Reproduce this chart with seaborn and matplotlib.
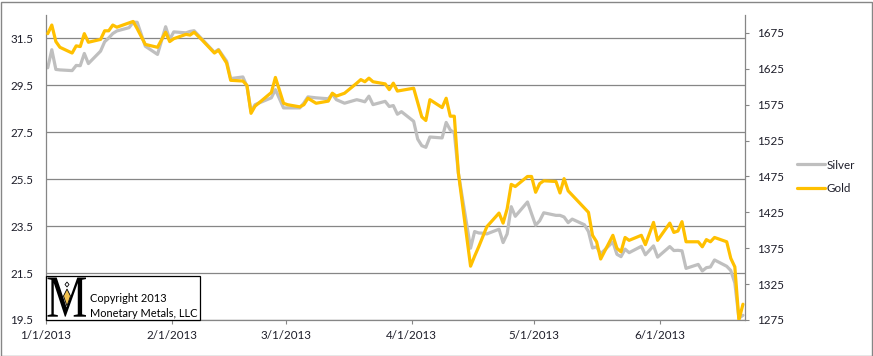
import numpy as np
import pandas as pd
import matplotlib
matplotlib.use('Agg')
import matplotlib.pyplot as plt
import matplotlib.dates as mdates
import matplotlib.transforms as mtransforms
from matplotlib.lines import Line2D
from matplotlib.patches import Rectangle, Polygon, PathPatch
from matplotlib.textpath import TextPath
from matplotlib.font_manager import FontProperties
from matplotlib.ticker import FuncFormatter
import seaborn as sns

# trading days (2013)
dates_jan = ['01-01', '01-02', '01-03', '01-04', '01-07', '01-08', '01-09', '01-10', '01-11',
             '01-14', '01-15', '01-16', '01-17', '01-18', '01-21', '01-22', '01-23', '01-25',
             '01-28', '01-30', '01-31']
dates_feb = ['02-01', '02-04', '02-05', '02-06', '02-08', '02-11', '02-12', '02-14', '02-15',
             '02-18', '02-19', '02-20', '02-21', '02-25', '02-26', '02-28']
dates_mar = ['03-01', '03-04', '03-05', '03-06', '03-08', '03-11', '03-12', '03-13', '03-15',
             '03-18', '03-19', '03-20', '03-21', '03-22', '03-25', '03-26', '03-27', '03-28', '03-29']
dates_apr = ['04-01', '04-02', '04-03', '04-04', '04-05', '04-08', '04-09', '04-10', '04-11',
             '04-12', '04-15', '04-16', '04-17', '04-18', '04-19', '04-22', '04-23', '04-24',
             '04-25', '04-26', '04-29', '04-30']
dates_may = ['05-01', '05-02', '05-03', '05-06', '05-07', '05-08', '05-09', '05-10', '05-13',
             '05-14', '05-15', '05-16', '05-17', '05-20', '05-21', '05-22', '05-23', '05-24',
             '05-27', '05-28', '05-30', '05-31']
dates_jun = ['06-03', '06-04', '06-05', '06-06', '06-07', '06-10', '06-11', '06-12', '06-13',
             '06-14', '06-17', '06-18', '06-19', '06-20', '06-21']

# gold, USD/oz (right axis)
gold = [1674, 1686, 1663, 1655, 1647, 1657, 1656, 1674, 1662, 1666, 1678, 1678, 1686, 1683, 1689,
        1691, 1681, 1659, 1655, 1676, 1663,
        1667, 1673, 1672, 1676, 1665, 1647, 1651, 1633, 1609, 1608, 1602, 1563, 1573, 1592, 1613, 1577,
        1575, 1572, 1575, 1584, 1577, 1580, 1591, 1587, 1591, 1605, 1610, 1607, 1612, 1607, 1604,
        1596, 1605, 1594, 1595,
        1598, 1578, 1558, 1553, 1582, 1571, 1584, 1559, 1559, 1480, 1350, 1364, 1377, 1391, 1405,
        1424, 1410, 1430, 1464, 1461, 1475, 1475,
        1453, 1465, 1469, 1468, 1452, 1472, 1455, 1449, 1431, 1425, 1393, 1384, 1360, 1393, 1375,
        1370, 1390, 1386, 1393, 1380, 1411, 1386,
        1410, 1397, 1399, 1412, 1384, 1384, 1377, 1387, 1384, 1390, 1384, 1361, 1349, 1275, 1297]

# silver, USD/oz (left axis)
silver = [30.25, 31.02, 30.18, 30.16, 30.13, 30.35, 30.34, 30.86, 30.43, 30.96, 31.36, 31.52, 31.71,
          31.82, 31.96, 32.19, 32.19, 31.17, 30.82, 32.00, 31.46,
          31.78, 31.74, 31.80, 31.83, 31.46, 30.91, 31.03, 30.53, 29.79, 29.86, 29.46, 28.39, 28.68,
          28.97, 29.32, 28.54,
          28.54, 28.54, 28.75, 29.01, 28.97, 28.93, 29.13, 28.89, 28.74, 28.89, 28.85, 28.80, 29.04,
          28.68, 28.82, 28.60, 28.64, 28.27, 28.38,
          27.97, 27.21, 26.93, 26.86, 27.30, 27.26, 27.92, 27.60, 27.48, 25.76, 22.56, 23.27, 23.21,
          23.20, 23.17, 23.37, 22.80, 23.17, 24.33, 23.92, 24.53, 24.03,
          23.54, 23.73, 24.07, 23.96, 23.96, 23.89, 23.65, 23.80, 23.56, 23.27, 22.57, 22.62, 22.32,
          22.83, 22.30, 22.20, 22.52, 22.37, 22.64, 22.28, 22.66, 22.18,
          22.63, 22.46, 22.47, 22.45, 21.70, 21.87, 21.59, 21.73, 21.76, 22.06, 21.79, 21.61, 21.08,
          19.58, 19.70]

silver_ticks = [19.5, 21.5, 23.5, 25.5, 27.5, 29.5, 31.5]
gold_ticks = [1275, 1325, 1375, 1425, 1475, 1525, 1575, 1625, 1675]

GRAY = '#868686'
TXT = '#1e1e2a'
FS = 8.4

sns.set_style('white')
plt.rcParams['font.family'] = ['Lato', 'DejaVu Sans']

all_dates = dates_jan + dates_feb + dates_mar + dates_apr + dates_may + dates_jun
df = pd.DataFrame({
    'date': pd.to_datetime(['2013-' + d for d in all_dates]) + pd.Timedelta(hours=12),
    'Silver': silver,
    'Gold': gold,
})

W, H = 873, 356
fig = plt.figure(figsize=(W / 100, H / 100), dpi=100)
x0, x1, y0, y1 = 45.7, 745.0, 15.0, 320.0
ax = fig.add_axes([x0 / W, 1 - y1 / H, (x1 - x0) / W, (y1 - y0) / H])
ax2 = ax.twinx()

sns.lineplot(data=df, x='date', y='Silver', ax=ax, color='#BFBFBF', lw=2.3, legend=False)
sns.lineplot(data=df, x='date', y='Gold', ax=ax2, color='#FFC000', lw=2.3, legend=False)

ax.set_xlim(pd.Timestamp('2013-01-01'), pd.Timestamp('2013-06-22'))
ax.set_ylim(19.5, 32.5)
ax2.set_ylim(1275, 1700)
ax.set_yticks(silver_ticks)
ax.set_yticklabels([f'{v:.1f}' for v in silver_ticks])
ax2.set_yticks(gold_ticks)
ax.xaxis.set_major_locator(mdates.MonthLocator())
ax.xaxis.set_major_formatter(FuncFormatter(
    lambda v, p: (lambda d: f'{d.month}/{d.day}/{d.year}')(mdates.num2date(v))))
for a in (ax, ax2):
    a.set_xlabel('')
    a.set_ylabel('')

ax.yaxis.grid(True, color=GRAY, lw=0.9)
ax.xaxis.grid(False)
ax.set_axisbelow(True)

for s in ['top', 'right']:
    ax.spines[s].set_visible(False)
for s in ['top', 'left', 'bottom']:
    ax2.spines[s].set_visible(False)
for sp in (ax.spines['left'], ax.spines['bottom'], ax2.spines['right']):
    sp.set_color(GRAY)
    sp.set_linewidth(0.9)

ax.tick_params(axis='y', length=0, pad=9, labelsize=FS, labelcolor=TXT)
ax.tick_params(axis='x', length=3, color=GRAY, pad=4, labelsize=FS, labelcolor=TXT, bottom=True)
ax2.tick_params(axis='y', length=3, color=GRAY, pad=5.5, labelsize=FS, labelcolor=TXT, right=True)

# legend
handles = [Line2D([], [], color='#BFBFBF', lw=2.3), Line2D([], [], color='#FFC000', lw=2.3)]
leg = fig.legend(handles, ['Silver', 'Gold'], loc='center left', bbox_to_anchor=(797 / W, 1 - 177 / H),
                 frameon=False, handlelength=2.4, handletextpad=0.1, labelspacing=1.1,
                 borderpad=0, borderaxespad=0, fontsize=FS)
for t in leg.get_texts():
    t.set_color(TXT)

# copyright box
def px(x, y):
    return ((x - x0) / (x1 - x0), (y1 - y) / (y1 - y0))

bx, by = px(45.7, 320)
bw = (200 - 45.7) / (x1 - x0)
bh = (320 - 276) / (y1 - y0)
ax.add_patch(Rectangle((bx, by), bw, bh, transform=ax.transAxes, fc='white', ec='black',
                       lw=0.9, zorder=5, clip_on=False))
ax.text(*px(89.5, 298.5), 'Copyright 2013', transform=ax.transAxes, fontsize=7.9,
        va='center', ha='left', color='black', zorder=6)
ax.text(*px(89.5, 313.5), 'Monetary Metals, LLC', transform=ax.transAxes, fontsize=7.9,
        va='center', ha='left', color='black', zorder=6)

# the "M" mark
tp = TextPath((0, 0), 'M', size=1, prop=FontProperties(family='Liberation Serif'))
bb = tp.get_extents()
mx, my = px(47.5, 316.7)
mw = (86 - 47.5) / (x1 - x0)
mh = (316.7 - 277.5) / (y1 - y0)
tr = (mtransforms.Affine2D().translate(-bb.x0, -bb.y0).scale(mw / bb.width, mh / bb.height)
      .translate(mx, my) + ax.transAxes)
ax.add_patch(PathPatch(tp, transform=tr, fc='black', ec='none', zorder=6, clip_on=False))
ax.add_patch(Polygon([px(67, 289), px(70.5, 296), px(67, 306), px(63.5, 296)], closed=True,
                     transform=ax.transAxes, fc='#F2C14E', ec='black', lw=0.6, zorder=7, clip_on=False))
ax.add_patch(Polygon([px(67, 282), px(69, 284.5), px(67, 287), px(65, 284.5)], closed=True,
                     transform=ax.transAxes, fc='white', ec='black', lw=0.6, zorder=7, clip_on=False))

# chart border
fig.add_artist(Rectangle((0.5 / W, 0.5 / H), 1 - 2 / W, 1 - 2 / H, transform=fig.transFigure,
                         fill=False, ec=GRAY, lw=1))

fig.savefig('out.png', dpi=100)
